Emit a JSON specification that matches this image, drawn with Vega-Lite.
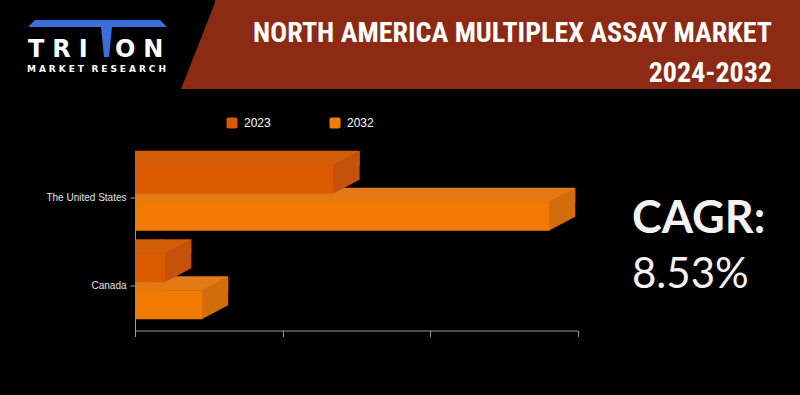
{
  "$schema": "https://vega.github.io/schema/vega-lite/v6.json",
  "background": "#000000",
  "padding": 0,
  "spacing": 0,
  "bounds": "full",
  "config": {"view": {"stroke": null}, "font": "Liberation Sans"},
  "vconcat": [
    {
      "spacing": 0,
      "bounds": "flush",
      "hconcat": [
        {
          "width": 215,
          "height": 89,
          "data": {"values": [{}]},
          "layer": [
            {"mark": {"type": "point", "shape": "M-72.5,-24.5L52.5,-24.5L59.5,-17.5L4.5,-17.5L1.5,12.5L-3.5,12.5L-6.5,-17.5L-79.5,-17.5Z", "size": 4, "filled": true, "opacity": 1, "fill": "#3b6fdc", "strokeWidth": 0}},
            {"mark": {"type": "text", "text": "T\u2004R\u2004I", "font": "DejaVu Sans", "fontWeight": "bold", "fontSize": 24, "fill": "#ffffff", "align": "left", "baseline": "alphabetic", "dx": -79.5, "dy": 12.5}},
            {"mark": {"type": "text", "text": "O\u2004N", "font": "DejaVu Sans", "fontWeight": "bold", "fontSize": 24, "fill": "#ffffff", "align": "left", "baseline": "alphabetic", "dx": 7.5, "dy": 12.5}},
            {"mark": {"type": "text", "text": "M\u2004A\u2004R\u2004K\u2004E\u2004T\u2002\u2004R\u2004E\u2004S\u2004E\u2004A\u2004R\u2004C\u2004H", "font": "DejaVu Sans", "fontWeight": "bold", "fontSize": 9, "fill": "#ffffff", "align": "left", "baseline": "alphabetic", "dx": -80.5, "dy": 27.5}}
          ]
        },
        {
          "width": 585,
          "height": 89,
          "view": {"fill": "#8c2a14"},
          "data": {"values": [{}]},
          "layer": [
            {"mark": {"type": "point", "shape": "M-291.5,-44.5L-291.5,44.5L-326.5,44.5Z", "size": 4, "filled": true, "opacity": 1, "fill": "#8c2a14", "strokeWidth": 0}},
            {"mark": {"type": "text", "text": "NORTH AMERICA MULTIPLEX ASSAY MARKET", "font": "Liberation Sans Narrow, Roboto Condensed, DejaVu Sans Condensed, Liberation Sans", "fontWeight": "bold", "fontSize": 28, "fill": "#ffffff", "align": "right", "baseline": "alphabetic", "dx": 264.5, "dy": -2.5}},
            {"mark": {"type": "text", "text": "2024-2032", "font": "Liberation Sans Narrow, Roboto Condensed, DejaVu Sans Condensed, Liberation Sans", "fontWeight": "bold", "fontSize": 28, "fill": "#ffffff", "align": "right", "baseline": "alphabetic", "dx": 264.5, "dy": 37.5}}
          ]
        }
      ]
    },
    {
      "spacing": 0,
      "bounds": "flush",
      "center": true,
      "hconcat": [
        {
          "width": 135,
          "height": 306,
          "data": {"values": []},
          "mark": "point"
        },
        {
          "width": 443,
          "height": 177,
          "data": {
            "values": [
              {"country": "The United States", "year": "2023", "value": 269},
              {"country": "The United States", "year": "2032", "value": 561},
              {"country": "Canada", "year": "2023", "value": 41},
              {"country": "Canada", "year": "2032", "value": 91}
            ]
          },
          "encoding": {
            "y": {
              "field": "country",
              "type": "nominal",
              "sort": ["The United States", "Canada"],
              "title": null,
              "scale": {"paddingInner": 0, "paddingOuter": 0},
              "axis": {"labelColor": "#e6e6e6", "labelFont": "Liberation Sans", "labelFontSize": 10, "tickColor": "#9a9a9a", "domainColor": "#9a9a9a", "tickSize": 5, "labelPadding": 4, "grid": false}
            },
            "x": {
              "field": "value",
              "type": "quantitative",
              "title": null,
              "stack": null,
              "scale": {"domain": [0, 600], "nice": false},
              "axis": {"values": [0, 200, 400, 600], "labels": false, "grid": false, "tickColor": "#9a9a9a", "domainColor": "#9a9a9a", "tickSize": 6}
            }
          },
          "layer": [
            {
              "transform": [{"filter": "datum.year === '2032'"}],
              "mark": {"type": "bar", "height": 14.6, "yOffset": -2.8, "y2Offset": -2.8, "xOffset": 26, "x2Offset": 26, "fill": "#e47a14", "strokeWidth": 0}
            },
            {
              "transform": [{"filter": "datum.year === '2032'"}],
              "mark": {"type": "point", "shape": "M0,-14L0,-14.5L26,-28.5L26.6,-28.5L26.6,-14Z", "size": 4, "filled": true, "opacity": 1, "fill": "#e47a14", "strokeWidth": 0, "yOffset": 18.5},
              "encoding": {"x": {"datum": 0, "type": "quantitative", "title": null}}
            },
            {
              "transform": [{"filter": "datum.year === '2032'"}],
              "mark": {"type": "point", "shape": "M-0.5,-14.5L26,-28.5L26,0.5L-0.5,14.5Z", "size": 4, "filled": true, "opacity": 1, "fill": "#d36c0a", "strokeWidth": 0, "yOffset": 18.5}
            },
            {
              "transform": [{"filter": "datum.year === '2032'"}],
              "mark": {"type": "bar", "height": 29, "yOffset": 18.5, "y2Offset": 18.5, "strokeWidth": 0},
              "encoding": {
                "color": {
                  "field": "year",
                  "type": "nominal",
                  "scale": {"domain": ["2023", "2032"], "range": ["#dc5a02", "#f37a02"]},
                  "legend": {"title": null, "orient": "none", "legendX": 226, "legendY": 117, "direction": "horizontal", "symbolType": "M-0.7,-1L0.7,-1Q1,-1 1,-0.7L1,0.7Q1,1 0.7,1L-0.7,1Q-1,1 -1,0.7L-1,-0.7Q-1,-1 -0.7,-1Z", "symbolSize": 121, "symbolStrokeWidth": 0, "symbolOpacity": 1, "labelColor": "#ffffff", "labelFont": "Liberation Sans", "labelFontSize": 12, "labelOffset": 6, "columnPadding": 58, "padding": 0}
                }
              }
            },
            {
              "transform": [{"filter": "datum.year === '2023'"}],
              "mark": {"type": "bar", "height": 14.6, "yOffset": -39.8, "y2Offset": -39.8, "xOffset": 26, "x2Offset": 26, "fill": "#d25e0c", "strokeWidth": 0}
            },
            {
              "transform": [{"filter": "datum.year === '2023'"}],
              "mark": {"type": "point", "shape": "M0,-14L0,-14.5L26,-28.5L26.6,-28.5L26.6,-14Z", "size": 4, "filled": true, "opacity": 1, "fill": "#d25e0c", "strokeWidth": 0, "yOffset": -18.5},
              "encoding": {"x": {"datum": 0, "type": "quantitative", "title": null}}
            },
            {
              "transform": [{"filter": "datum.year === '2023'"}],
              "mark": {"type": "point", "shape": "M-0.5,-14.5L26,-28.5L26,0.5L-0.5,14.5Z", "size": 4, "filled": true, "opacity": 1, "fill": "#c4520a", "strokeWidth": 0, "yOffset": -18.5}
            },
            {
              "transform": [{"filter": "datum.year === '2023'"}],
              "mark": {"type": "bar", "height": 29, "yOffset": -18.5, "y2Offset": -18.5, "strokeWidth": 0},
              "encoding": {
                "color": {"field": "year", "type": "nominal", "scale": {"domain": ["2023", "2032"], "range": ["#dc5a02", "#f37a02"]}}
              }
            }
          ]
        },
        {
          "width": 222,
          "height": 306,
          "data": {"values": [{}]},
          "layer": [
            {"mark": {"type": "text", "text": "CAGR:", "font": "Lato", "fontWeight": "bold", "fontSize": 45, "fill": "#f7f2f2", "align": "left", "baseline": "alphabetic", "dx": -57, "dy": -9}},
            {"mark": {"type": "text", "text": "8.53%", "font": "Lato", "fontSize": 42, "fill": "#f7f2f2", "align": "left", "baseline": "alphabetic", "dx": -57, "dy": 46}}
          ]
        }
      ]
    }
  ]
}
